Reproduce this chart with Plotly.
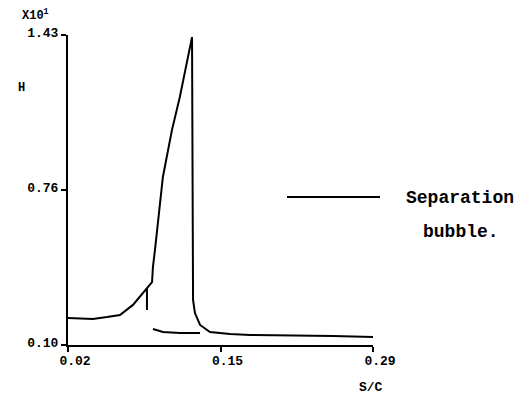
import plotly.graph_objects as go

# ---- data (s/c, H) ----
s_main = [0.02, 0.042, 0.0545, 0.066, 0.0775, 0.0899, 0.0944, 0.0952, 0.097, 0.104,
          0.112, 0.119, 0.1298, 0.1307, 0.1324, 0.1369, 0.1457, 0.1634, 0.1811, 0.2546, 0.29]
H_main = [0.216, 0.212, 0.220, 0.229, 0.272, 0.345, 0.370, 0.435, 0.508, 0.821,
          1.022, 1.164, 1.421, 0.293, 0.237, 0.186, 0.156, 0.147, 0.143, 0.139, 0.134]

s_tick = [0.0899, 0.0899]
H_tick = [0.345, 0.250]

s_low = [0.0952, 0.104, 0.119, 0.1369]
H_low = [0.169, 0.156, 0.151, 0.151]

x_tickvals = [0.02, 0.155, 0.29]
x_ticktext = ["0.02", "0.15", "0.29"]
y_tickvals = [0.10, 0.765, 1.43]
y_ticktext = ["0.10", "0.76", "1.43"]

# ---- layout geometry (pixels) ----
W, H = 524, 394
L, T, PW, PH = 68, 35, 305, 310
R = W - L - PW
B = H - T - PH

def px(x):
    return (x - L) / PW

def py(y):
    return (T + PH - y) / PH

FONT = "Liberation Mono"
line_style = dict(color="black", width=2)

def f(size):
    return dict(family=FONT, color="black", size=size, weight="bold")

fig = go.Figure()
fig.add_trace(go.Scatter(x=s_main, y=H_main, mode="lines", line=line_style, name="H"))
fig.add_trace(go.Scatter(x=s_tick, y=H_tick, mode="lines", line=line_style, name="tick"))
fig.add_trace(go.Scatter(x=s_low, y=H_low, mode="lines", line=line_style, name="Separation bubble."))

fig.update_layout(
    width=W, height=H,
    margin=dict(l=L, r=R, t=T, b=B, pad=0),
    plot_bgcolor="white", paper_bgcolor="white",
    showlegend=False,
    font=f(13),
)
fig.update_xaxes(
    range=[0.02, 0.29], tickvals=x_tickvals, ticktext=x_ticktext,
    ticks="outside", ticklen=5, tickwidth=2, tickcolor="black",
    showline=True, linewidth=2, linecolor="black",
    showgrid=False, zeroline=False, ticklabelshift=7, ticklabelstandoff=-3,
    tickfont=f(13),
)
fig.update_yaxes(
    range=[0.10, 1.43], tickvals=y_tickvals, ticktext=y_ticktext,
    ticks="outside", ticklen=5, tickwidth=2, tickcolor="black",
    showline=True, linewidth=2, linecolor="black",
    showgrid=False, zeroline=False, ticklabelshift=-3,
    tickfont=f(13),
)

ann = dict(xref="paper", yref="paper", showarrow=False)
fig.add_annotation(text="X10<sup>1</sup>", x=px(20), y=py(15), xanchor="left", yanchor="middle",
                   font=f(12), **ann)
fig.add_annotation(text="H", x=px(22), y=py(88), xanchor="center", yanchor="middle",
                   font=f(12), **ann)
fig.add_annotation(text="S/C", x=px(371), y=py(387), xanchor="center", yanchor="middle",
                   font=f(13), **ann)
fig.add_annotation(text="Separation", x=px(404), y=py(198), xanchor="left", yanchor="middle",
                   font=f(18), **ann)
fig.add_annotation(text="bubble.", x=px(421), y=py(232), xanchor="left", yanchor="middle",
                   font=f(18), **ann)
fig.add_shape(type="line", xref="paper", yref="paper", x0=px(287), x1=px(380), y0=py(197), y1=py(197),
              line=dict(color="black", width=2))

fig.write_html("out.html")
